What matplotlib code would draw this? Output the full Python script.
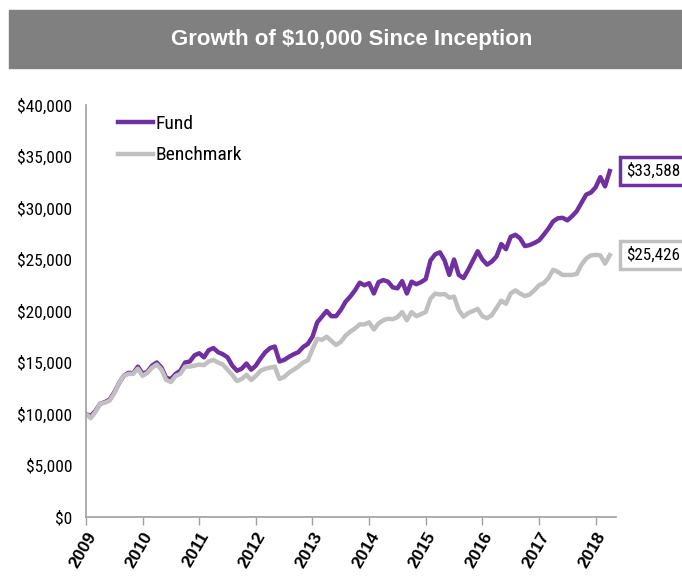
import matplotlib
matplotlib.use("Agg")
import matplotlib.pyplot as plt
from matplotlib.patches import Rectangle
from matplotlib.ticker import FuncFormatter, MultipleLocator
from matplotlib import font_manager

# monthly values, Jan 2009 .. Apr 2018
fund = [10000, 9800, 10300, 11000, 11150, 11400, 12100, 13000, 13700, 14000, 13950, 14600,
        13900, 14100, 14700, 15000, 14500, 13500, 13400, 13900, 14200, 15000, 15100, 15700,
        15900, 15500, 16200, 16400, 16000, 15800, 15500, 14700, 14200, 14400, 14900, 14300,
        14700, 15400, 16000, 16400, 16550, 15100, 15250, 15550, 15800, 16000, 16500, 16800,
        17500, 18900, 19450, 20000, 19500, 19500, 20100, 20900, 21400, 22000, 22750, 22500,
        22700, 21700, 22800, 23000, 22850, 22300, 22200, 22900, 21700, 22850, 22600, 22800,
        23100, 24900, 25500, 25700, 24900, 23500, 25000, 23500, 23200, 24000, 24900, 25800,
        25000, 24500, 24800, 25300, 26500, 26000, 27200, 27400, 27050, 26300, 26400, 26600,
        26850, 27400, 28000, 28700, 29000, 29050, 28800, 29200, 29700, 30500, 31300, 31500,
        32000, 33000, 32100, 33588]
benchmark = [10000, 9600, 10200, 11000, 11100, 11300, 12000, 13000, 13700, 13900, 13900, 14400,
             13700, 14000, 14500, 14800, 14300, 13300, 13100, 13700, 13900, 14600, 14600, 14700,
             14800, 14750, 15100, 15250, 15000, 14800, 14300, 13800, 13200, 13400, 13800, 13300,
             13700, 14200, 14400, 14500, 14600, 13400, 13600, 14000, 14300, 14600, 15000, 15200,
             16300, 17300, 17200, 17500, 17100, 16700, 17000, 17600, 18000, 18300, 18700, 18700,
             18900, 18200, 18800, 19100, 19250, 19200, 19400, 19900, 19100, 19900, 19500, 19700,
             19900, 21200, 21700, 21600, 21650, 21300, 21400, 20100, 19450, 19800, 20000, 20200,
             19500, 19300, 19600, 20300, 21000, 20700, 21700, 22000, 21700, 21450, 21600, 22000,
             22500, 22700, 23200, 24000, 23800, 23500, 23500, 23500, 23600, 24500, 25100, 25400,
             25450, 25400, 24600, 25426]
years = list(range(2009, 2019))
months = [2009 + i / 12 for i in range(len(fund))]

purple = "#7030A0"
gray = "#C0C0C0"

# narrow font like Arial Narrow
names = set(f.name for f in font_manager.fontManager.ttflist)
narrow = "DejaVu Sans"
for n in ["Liberation Sans Narrow", "Roboto Condensed", "PT Sans Narrow"]:
    if n in names:
        narrow = n
        break

fig = plt.figure(figsize=(6.82, 5.77), dpi=100)

# title bar
fig.patches.append(Rectangle((9 / 682, 1 - 68 / 577), 1, 58 / 577,
                             transform=fig.transFigure, color="#808080", zorder=0))
fig.text(352 / 682, 1 - 40 / 577, "Growth of \\$10,000 Since Inception", color="white",
         fontsize=16, fontweight="bold", family="Liberation Sans", ha="center", va="center")

ax = fig.add_axes([86 / 682, 1 - 517 / 577, 530 / 682, 412 / 577])
ax.plot(months, fund, color=purple, lw=3.2, label="Fund", solid_joinstyle="round")
ax.plot(months, benchmark, color=gray, lw=3.2, label="Benchmark", solid_joinstyle="round")

ax.set_xlim(2009, 2018.36)
ax.set_ylim(0, 40000)
ax.yaxis.set_major_locator(MultipleLocator(5000))
ax.yaxis.set_major_formatter(FuncFormatter(lambda v, p: f"\\${v:,.0f}"))
ax.set_xticks(years)
ax.set_xticklabels([str(y) for y in years], rotation=60, ha="right", va="top",
                   rotation_mode="anchor", fontweight="bold", fontsize=12.5,
                   family="Liberation Sans")
for lab in ax.get_yticklabels():
    lab.set_family(narrow)
    lab.set_fontsize(12.5)
ax.tick_params(axis="y", length=0, pad=10)
ax.tick_params(axis="x", length=6, color="#A0A0A0", width=1, pad=3)

for s in ["top", "right"]:
    ax.spines[s].set_visible(False)
for s in ["left", "bottom"]:
    ax.spines[s].set_color("#A0A0A0")
    ax.spines[s].set_linewidth(1.2)

ax.legend(loc="upper left", bbox_to_anchor=(0.045, 0.995), borderaxespad=0, frameon=False,
          prop={"family": narrow, "size": 14}, handlelength=1.8, handletextpad=0.15,
          labelspacing=0.7)

# end-value boxes
for vals, col in [(fund, purple), (benchmark, gray)]:
    ax.annotate(f"\\${vals[-1]:,}", xy=(months[-1], vals[-1]), xytext=(11.5, 0),
                textcoords="offset points", va="center", ha="left", fontsize=12.3,
                family=narrow, annotation_clip=False,
                bbox=dict(boxstyle="square,pad=0.36", fc="white", ec=col, lw=2.5))

fig.savefig("out.png", dpi=100)
